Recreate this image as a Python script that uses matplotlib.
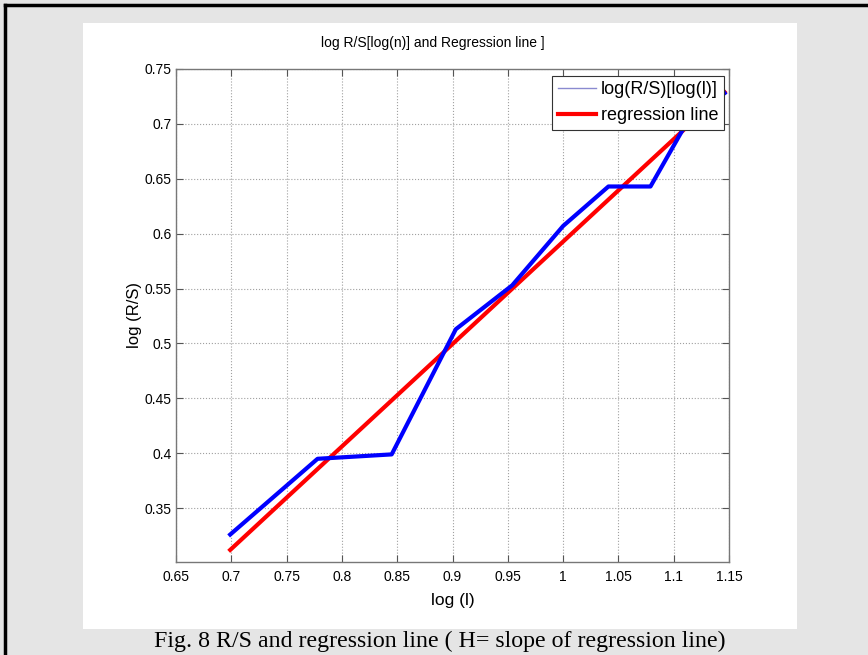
import numpy as np
import matplotlib
matplotlib.use("Agg")
import matplotlib.pyplot as plt
from matplotlib.lines import Line2D
from matplotlib.patches import Rectangle

# log10 of window sizes 5..14
log_l = [0.699, 0.778, 0.845, 0.903, 0.954, 1.0, 1.041, 1.079, 1.114, 1.146]
log_rs = [0.326, 0.395, 0.399, 0.513, 0.553, 0.607, 0.643, 0.643, 0.705, 0.728]

# regression line end points
reg_x = [0.699, 1.146]
reg_y = [0.312, 0.729]

xticks = [0.65, 0.7, 0.75, 0.8, 0.85, 0.9, 0.95, 1, 1.05, 1.1, 1.15]
xtick_labels = ['0.65', '0.7', '0.75', '0.8', '0.85', '0.9', '0.95', '1', '1.05', '1.1', '1.15']
yticks = [0.35, 0.4, 0.45, 0.5, 0.55, 0.6, 0.65, 0.7, 0.75]
ytick_labels = ['0.35', '0.4', '0.45', '0.5', '0.55', '0.6', '0.65', '0.7', '0.75']

W, H = 868, 655
plt.rcParams['font.family'] = ['Liberation Sans', 'DejaVu Sans']

fig = plt.figure(figsize=(W / 100, H / 100), dpi=100)
fig.patch.set_facecolor('#e5e5e5')

# white matlab figure panel
fig.add_artist(Rectangle((83 / W, 1 - 629 / H), (797 - 83) / W, (629 - 23) / H,
                         transform=fig.transFigure, facecolor='white', edgecolor='none', zorder=0))
# black frame at top and left
fig.add_artist(Line2D([5 / W, 5 / W], [0, 1 - 5 / H], transform=fig.transFigure, color='black', lw=2.5))
fig.add_artist(Line2D([5 / W, 1], [1 - 5 / H, 1 - 5 / H], transform=fig.transFigure, color='black', lw=2.5))

ax = fig.add_axes([176 / W, 1 - 562 / H, (729 - 176) / W, (562 - 69) / H])
ax.set_facecolor('white')

ax.plot(log_l, log_rs, color='#0000ff', lw=3, zorder=3)
ax.plot(reg_x, reg_y, color='#ff0000', lw=3, zorder=2)

ax.set_xlim(0.65, 1.15)
ax.set_ylim(0.301, 0.75)
ax.set_xticks(xticks)
ax.set_xticklabels(xtick_labels)
ax.set_yticks(yticks)
ax.set_yticklabels(ytick_labels)
ax.tick_params(direction='in', top=True, right=True, length=5, width=0.8,
               color='#555555', labelsize=10)
ax.tick_params(axis='y', pad=3)
ax.tick_params(axis='x', pad=6)
for s in ax.spines.values():
    s.set_color('#777777')
    s.set_linewidth(1)
ax.grid(True, linestyle=':', color='#a0a0a0', lw=0.8)

fig.text(433 / W, 1 - 43 / H, 'log R/S[log(n)] and Regression line ]', fontsize=10,
         ha='center', va='center')
ax.set_xlabel('log (l)', fontsize=12.5, labelpad=6)
ax.set_ylabel('log (R/S)', fontsize=12, labelpad=2)

handles = [Line2D([], [], color='#8a8ad0', lw=1),
           Line2D([], [], color='#ff0000', lw=3)]
leg = ax.legend(handles, ['log(R/S)[log(l)]', 'regression line'], loc='upper right',
                bbox_to_anchor=(1.0 - 5 / 553, 1.0 - 7 / 493), fontsize=13,
                fancybox=False, framealpha=1, edgecolor='#333333',
                handlelength=2.1, handletextpad=0.3, borderpad=0.3,
                labelspacing=0.5, borderaxespad=0)
leg.get_frame().set_linewidth(0.8)

fig.text(440 / W, 1 - 641 / H, 'Fig. 8 R/S and regression line ( H= slope of regression line)',
         family=['Liberation Serif', 'DejaVu Serif'], fontsize=17.2, ha='center', va='center')

fig.savefig('out.png', dpi=100, facecolor=fig.get_facecolor())
